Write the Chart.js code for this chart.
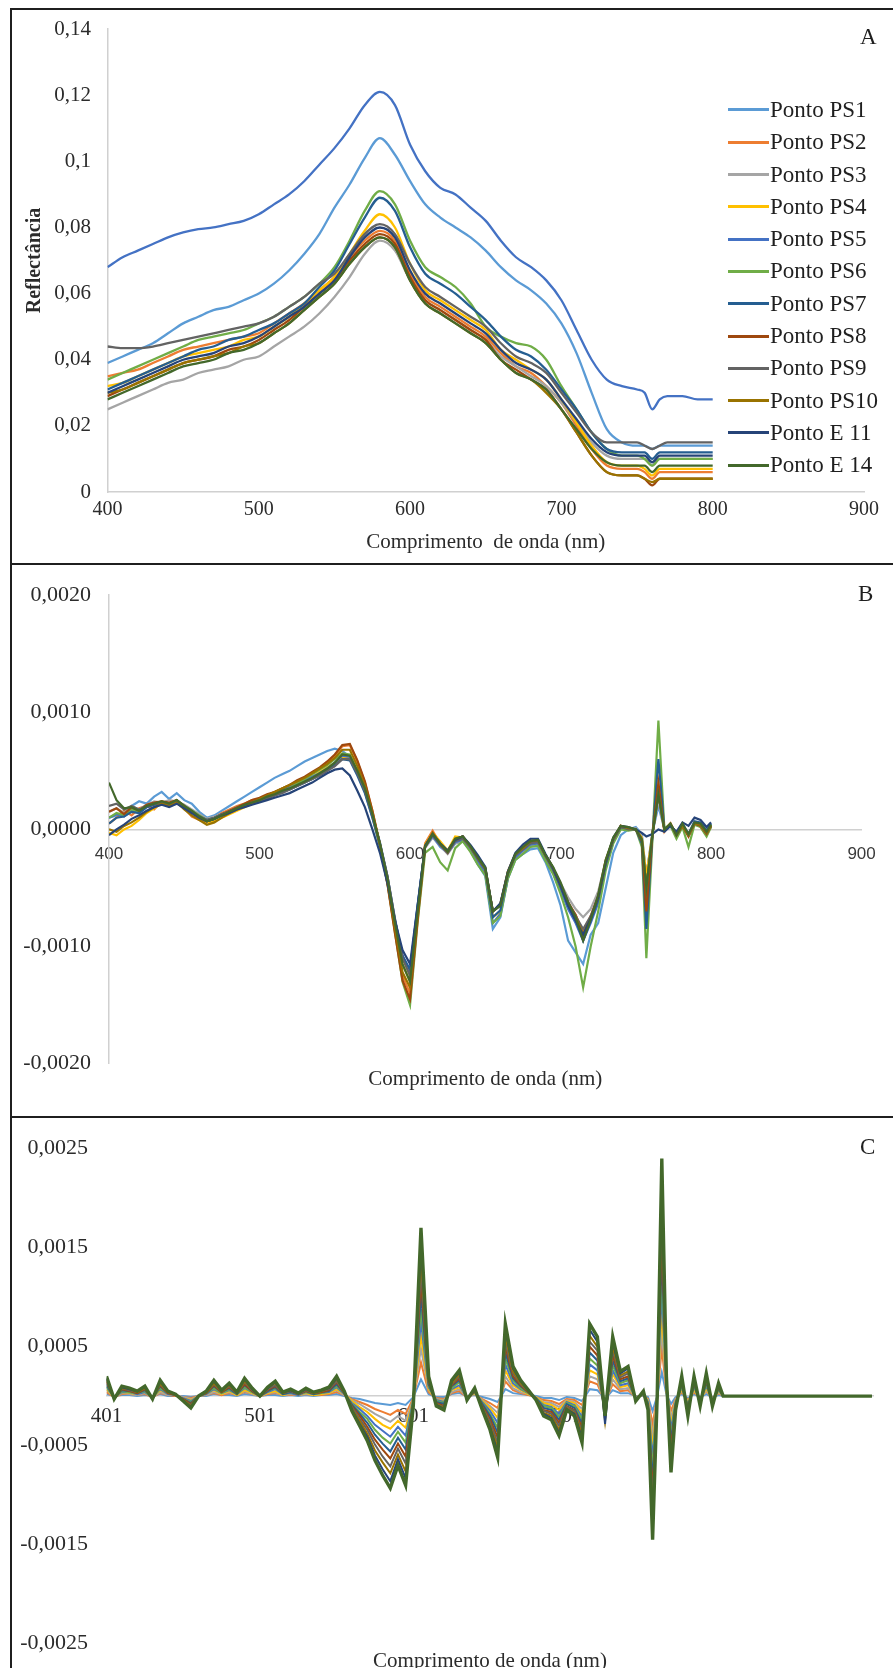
<!DOCTYPE html>
<html lang="pt">
<head>
<meta charset="utf-8">
<title>Reflectância e derivadas – pontos PS / E</title>
<script src="https://cdn.jsdelivr.net/npm/chart.js@4.4.0/dist/chart.umd.min.js"></script>
<style>
  html, body { margin: 0; padding: 0; background: #fff; }
  #page { position: relative; width: 893px; height: 1668px; overflow: hidden; background: #fff; }
  canvas { position: absolute; left: 0; }
  .frame { position: absolute; background: #1f1f1f; }
  .tag { position: absolute; font: 23px "Liberation Serif", "Times New Roman", serif; color: #1f1f1f; line-height: 1; }
  #legendA { position: absolute; left: 728px; top: 93.8px; font: 23px "Liberation Serif", "Times New Roman", serif; color: #1f1f1f; }
  #legendA .item { height: 32.3px; display: flex; align-items: center; white-space: nowrap; }
  #legendA .swatch { width: 41px; height: 3px; margin-right: 1px; }
</style>
</head>
<body>
<div id="page">
  <canvas id="chartA" width="893" height="564" style="top:0"></canvas>
  <canvas id="chartB" width="893" height="553" style="top:564px"></canvas>
  <canvas id="chartC" width="893" height="570" style="top:1117px"></canvas>
  <div id="legendA"></div>
  <span class="tag" style="left:860px;top:25px">A</span>
  <span class="tag" style="left:858px;top:582px">B</span>
  <span class="tag" style="left:860px;top:1135px">C</span>
  <div class="frame" style="left:10px;top:8px;width:883px;height:2px"></div>
  <div class="frame" style="left:10px;top:8px;width:2px;height:1660px"></div>
  <div class="frame" style="left:10px;top:563px;width:883px;height:2px"></div>
  <div class="frame" style="left:10px;top:1116px;width:883px;height:2px"></div>
</div>
<script>
// Séries (pontos de coleta)
const seriesNames = ['Ponto PS1', 'Ponto PS2', 'Ponto PS3', 'Ponto PS4', 'Ponto PS5', 'Ponto PS6',
  'Ponto PS7', 'Ponto PS8', 'Ponto PS9', 'Ponto PS10', 'Ponto E 11', 'Ponto E 14'];
const seriesColors = ['#5b9bd5', '#ed7d31', '#a5a5a5', '#ffc000', '#4472c4', '#70ad47',
  '#255e91', '#9e480e', '#636363', '#997300', '#264478', '#43682b'];

// ---- Painel A: reflectância ----
const wavelengthsA = [400, 410, 420, 430, 440, 450, 460, 470, 480, 490,
  500, 510, 520, 530, 540, 550, 560, 570, 580, 590,
  600, 610, 620, 630, 640, 650, 660, 670, 680, 690,
  700, 710, 720, 730, 740, 750, 755, 760, 765, 770,
  780, 790, 800];
const aPS1 = [.039, .041, .043, .045, .048, .051, .053, .055, .056, .058,
  .060, .063, .067, .072, .078, .086, .093, .101, .107, .102,
  .094, .087, .083, .080, .077, .073, .068, .064, .061, .057,
  .051, .042, .030, .019, .015, .014, .014, .013, .014, .014,
  .014, .014, .014];
const aPS2 = [.035, .036, .037, .039, .041, .043, .044, .045, .046, .047,
  .048, .051, .054, .057, .061, .065, .071, .076, .079, .076,
  .066, .059, .056, .053, .050, .047, .042, .038, .036, .032,
  .027, .020, .013, .008, .007, .007, .006, .004, .006, .006,
  .006, .006, .006];
const aPS3 = [.025, .027, .029, .031, .033, .034, .036, .037, .038, .040,
  .041, .044, .047, .050, .054, .059, .065, .072, .076, .073,
  .064, .058, .055, .052, .049, .046, .041, .038, .035, .032,
  .027, .021, .015, .011, .010, .010, .010, .008, .010, .010,
  .010, .010, .010];
const aPS4 = [.032, .033, .035, .037, .039, .041, .042, .043, .044, .046,
  .047, .050, .053, .057, .061, .065, .072, .079, .084, .080,
  .069, .061, .058, .055, .052, .049, .043, .040, .037, .034,
  .028, .021, .014, .009, .008, .008, .007, .005, .007, .007,
  .007, .007, .007];
const aPS5 = [.068, .071, .073, .075, .077, .0785, .0795, .080, .081, .082,
  .084, .087, .090, .094, .099, .104, .110, .117, .121, .117,
  .105, .097, .092, .090, .086, .082, .076, .071, .068, .064,
  .058, .049, .040, .034, .032, .031, .030, .025, .028, .029,
  .029, .028, .028];
const aPS6 = [.034, .036, .038, .040, .042, .044, .046, .047, .048, .049,
  .051, .053, .056, .059, .063, .068, .076, .085, .091, .087,
  .076, .068, .065, .062, .057, .050, .047, .045, .044, .040,
  .032, .025, .018, .013, .011, .011, .010, .008, .010, .010,
  .010, .010, .010];
const aPS7 = [.031, .033, .035, .037, .039, .041, .043, .044, .046, .047,
  .049, .051, .054, .057, .062, .067, .075, .083, .089, .085,
  .074, .066, .063, .060, .056, .052, .047, .043, .041, .037,
  .031, .025, .018, .013, .012, .012, .012, .010, .012, .012,
  .012, .012, .012];
const aPS8 = [.029, .031, .033, .035, .037, .039, .040, .041, .043, .044,
  .046, .049, .052, .056, .060, .064, .070, .075, .078, .075,
  .065, .058, .055, .052, .049, .046, .040, .037, .034, .031,
  .025, .018, .011, .006, .005, .005, .004, .002, .004, .004,
  .004, .004, .004];
const aPS9 = [.044, .0435, .0435, .044, .045, .046, .047, .048, .049, .050,
  .051, .053, .056, .059, .063, .066, .072, .078, .081, .078,
  .069, .062, .059, .056, .053, .050, .045, .041, .039, .036,
  .030, .024, .018, .015, .015, .015, .014, .013, .014, .015,
  .015, .015, .015];
const aPS10 = [.030, .031, .033, .035, .037, .039, .040, .041, .042, .044,
  .045, .048, .051, .055, .059, .063, .069, .074, .077, .074,
  .064, .057, .054, .051, .048, .045, .040, .036, .034, .030,
  .025, .018, .011, .006, .005, .005, .004, .003, .004, .004,
  .004, .004, .004];
const aE11 = [.030, .032, .034, .036, .038, .040, .041, .042, .044, .045,
  .047, .050, .053, .056, .060, .064, .071, .077, .080, .077,
  .067, .060, .057, .054, .051, .048, .043, .039, .037, .034,
  .028, .022, .016, .012, .011, .011, .011, .009, .011, .011,
  .011, .011, .011];
const aE14 = [.028, .030, .032, .034, .036, .038, .039, .040, .042, .043,
  .045, .048, .051, .055, .059, .063, .069, .074, .077, .074,
  .064, .057, .054, .051, .048, .045, .040, .036, .034, .031,
  .025, .019, .013, .009, .008, .008, .008, .006, .008, .008,
  .008, .008, .008];
const xTicksA = [400, 500, 600, 700, 800, 900];
const yTicksA = [0, 0.02, 0.04, 0.06, 0.08, 0.1, 0.12, 0.14];

// ---- Painel B: primeira derivada (valores em 10^-4) ----
const wavelengthsB = [400, 405, 410, 415, 420, 425, 430, 435, 440, 445,
  450, 455, 460, 465, 470, 475, 480, 485, 490, 495,
  500, 505, 510, 515, 520, 525, 530, 535, 540, 545,
  550, 555, 560, 565, 570, 575, 580, 585, 590, 595,
  600, 605, 610, 615, 620, 625, 630, 635, 640, 645,
  650, 655, 660, 665, 670, 675, 680, 685, 690, 695,
  700, 705, 710, 715, 720, 725, 730, 735, 740, 745,
  750, 754, 757, 761, 765, 769, 773, 777, 781, 785,
  789, 793, 797, 800];
const bPS1 = [1, 1.2, 1.5, 2, 2.4, 2.2, 2.8, 3.2, 2.6, 3.1,
  2.5, 2.2, 1.5, 1, 1.2, 1.6, 2, 2.4, 2.8, 3.2,
  3.6, 4, 4.4, 4.7, 5, 5.4, 5.8, 6.1, 6.4, 6.7,
  6.9, 6.7, 6.2, 4.8, 3.2, 1, -1.5, -4.5, -8, -11,
  -12.3, -6.5, -1.5, -0.6, -1.5, -2, -1.2, -1, -1.8, -3,
  -4, -8.5, -7.5, -4.2, -2.6, -2.1, -1.7, -1.6, -2.8, -4.5,
  -6.5, -9.5, -10.5, -11.5, -9, -8, -5, -2, -0.5, 0,
  0.2, -0.4, -4, -0.3, 2, 0, 0.3, -0.5, 0.2, -0.4,
  0.4, 0.3, -0.2, 0.2];
const bPS2 = [0.5, 1, 1.6, 1.2, 1.8, 2, 1.7, 2.4, 2, 2.5,
  1.8, 1.1, 0.8, 0.6, 1, 1.4, 1.7, 2, 2.2, 2.5,
  2.6, 2.9, 3.2, 3.5, 3.8, 4.1, 4.4, 4.8, 5.2, 5.7,
  6.3, 7.1, 7.2, 5.8, 4, 1.6, -1.3, -4.6, -8.6, -12.5,
  -14, -7.5, -1.2, -0.1, -1.2, -1.9, -0.9, -0.6, -1.4, -2.4,
  -3.3, -7, -6.4, -3.6, -2.1, -1.6, -1.1, -1, -2.2, -3.3,
  -4.7, -6.3, -7.3, -8.8, -7.4, -5.6, -2.6, -0.9, 0.3, 0.1,
  0, -0.9, -6, -0.4, 3, -0.2, 0.5, -0.6, 0.4, -0.6,
  0.6, 0.2, -0.5, 0.3];
const bPS3 = [1.5, 1.8, 1.4, 2, 1.7, 2.1, 2.4, 2.3, 2.5, 2.4,
  2.1, 1.7, 1.3, 0.9, 1.1, 1.3, 1.6, 1.9, 2.1, 2.3,
  2.5, 2.7, 2.9, 3.2, 3.4, 3.7, 4, 4.3, 4.6, 5,
  5.4, 6, 6, 4.8, 3.3, 1.2, -1.2, -4, -7.6, -10.8,
  -12.5, -6.8, -1.6, -0.7, -1.4, -2.1, -1.2, -1, -1.6, -2.6,
  -3.6, -7, -6.5, -3.7, -2.4, -1.9, -1.4, -1.3, -2.4, -3.3,
  -4.6, -5.8, -6.8, -7.5, -6.8, -5.3, -2.7, -0.9, 0.2, 0,
  0.1, -0.6, -4, -0.3, 2.5, 0.1, 0.4, -0.3, 0.2, -0.4,
  0.4, 0.5, -0.2, 0.2];
const bPS4 = [-0.3, -0.5, 0, 0.3, 0.8, 1.4, 1.8, 2.2, 2, 2.4,
  1.8, 1.4, 1, 0.6, 0.7, 1, 1.3, 1.6, 1.9, 2.2,
  2.4, 2.7, 3, 3.3, 3.6, 3.9, 4.2, 4.5, 4.9, 5.3,
  5.7, 6.2, 6.1, 4.9, 3.4, 1.3, -1.2, -4.1, -8, -11.5,
  -13, -7, -1.3, -0.3, -1, -1.8, -0.6, -0.7, -1.4, -2.4,
  -3.4, -7.5, -7, -3.8, -2.1, -1.4, -0.9, -1.1, -2.3, -3.5,
  -5, -6.6, -7.8, -9, -7.6, -6, -3, -1, 0.1, 0,
  0, -0.7, -4, -0.5, 3, 0, 0.5, -0.5, 0.4, -0.5,
  0.5, 0.4, -0.3, 0.4];
const bPS5 = [1, 1.3, 1.1, 1.6, 1.4, 1.9, 2.1, 2.3, 2.1, 2.4,
  1.9, 1.5, 1.1, 0.7, 0.9, 1.2, 1.5, 1.8, 2.1, 2.4,
  2.6, 2.9, 3.1, 3.4, 3.6, 3.9, 4.2, 4.5, 4.8, 5.2,
  5.7, 6.3, 6.2, 4.9, 3.3, 1.2, -1.1, -4, -7.7, -10.8,
  -12, -6.6, -1.5, -0.6, -1.4, -2, -1.1, -0.9, -1.6, -2.7,
  -3.7, -8, -7.2, -4.1, -2.4, -1.8, -1.3, -1.2, -2.5, -3.7,
  -5.2, -6.8, -8, -9.5, -8, -6.3, -3.2, -1.1, 0.2, 0,
  0, -0.9, -6, -0.5, 3, 0, 0.4, -0.4, 0.3, -0.5,
  0.5, 0.4, -0.3, 0.3];
const bPS6 = [1, 1.4, 1.2, 1.7, 1.5, 2, 2.2, 2.4, 2.2, 2.5,
  2, 1.6, 1.2, 0.8, 1, 1.3, 1.5, 1.8, 2.1, 2.3,
  2.5, 2.8, 3, 3.3, 3.5, 3.9, 4.3, 4.7, 5.1, 5.5,
  6, 6.5, 6.4, 5, 3.4, 1.2, -1.5, -4.6, -8.8, -13,
  -15, -8, -2, -1.5, -2.8, -3.5, -1.6, -1, -1.9, -3,
  -3.9, -8, -7.4, -4.2, -2.6, -2.1, -1.5, -1.4, -2.7, -3.8,
  -5.5, -7.5, -10, -13.5, -10, -7, -3.5, -1.2, 0, -0.1,
  0, -1.5, -11, -1, 9.3, 0, 0.3, -0.8, 0.2, -1.5,
  0.4, 0.2, -0.6, 0.2];
const bPS7 = [0.5, 1, 1.1, 1.5, 1.4, 1.9, 2.1, 2.3, 2.2, 2.4,
  1.9, 1.5, 1.1, 0.8, 1, 1.3, 1.5, 1.8, 2, 2.3,
  2.4, 2.7, 2.9, 3.2, 3.4, 3.7, 4, 4.3, 4.7, 5.1,
  5.5, 6, 5.9, 4.6, 3.1, 1, -1.3, -4.1, -7.8, -10.8,
  -12, -6.7, -1.4, -0.4, -1.2, -1.9, -0.9, -0.7, -1.4, -2.4,
  -3.4, -7.5, -6.9, -3.8, -2.2, -1.6, -1.1, -1, -2.2, -3.4,
  -4.9, -6.5, -7.7, -9.5, -7.8, -6, -3, -0.9, 0.2, 0.1,
  0, -1.2, -8.5, -0.6, 6, 0, 0.4, -0.3, 0.5, -0.4,
  0.7, 0.6, -0.1, 0.5];
const bPS8 = [1.5, 1.8, 1.3, 1.9, 1.6, 2.1, 2.3, 2.4, 2.3, 2.5,
  2, 1.5, 1, 0.7, 0.9, 1.3, 1.6, 1.9, 2.2, 2.5,
  2.7, 3, 3.2, 3.5, 3.8, 4.2, 4.5, 4.9, 5.3, 5.8,
  6.4, 7.2, 7.3, 5.9, 4.1, 1.6, -1.3, -4.7, -8.9, -12.9,
  -14.5, -7.8, -1.5, -0.3, -1.3, -2, -0.9, -0.6, -1.5, -2.5,
  -3.4, -7, -6.4, -3.7, -2.1, -1.6, -1.1, -1, -2.2, -3.3,
  -4.7, -6.2, -7.3, -9, -7.5, -5.7, -2.7, -0.8, 0.3, 0.1,
  0, -1, -7, -0.5, 4, -0.1, 0.5, -0.5, 0.3, -0.6,
  0.5, 0.3, -0.4, 0.3];
const bPS9 = [2, 2.2, 1.7, 2, 1.7, 2, 2.2, 2.3, 2.1, 2.4,
  1.9, 1.5, 1.1, 0.8, 1, 1.3, 1.5, 1.8, 2, 2.2,
  2.4, 2.6, 2.9, 3.1, 3.4, 3.7, 4, 4.3, 4.6, 5,
  5.4, 6, 6, 4.8, 3.3, 1.2, -1.2, -4, -7.7, -11,
  -12.5, -6.9, -1.5, -0.5, -1.3, -2, -1, -0.8, -1.5, -2.5,
  -3.4, -7, -6.5, -3.7, -2.2, -1.7, -1.2, -1.1, -2.3, -3.4,
  -4.8, -6.3, -7.4, -8.5, -7.4, -5.8, -2.8, -0.9, 0.2, 0,
  0, -0.8, -5, -0.4, 3, 0, 0.4, -0.4, 0.3, -0.5,
  0.5, 0.4, -0.3, 0.3];
const bPS10 = [0, -0.2, 0.3, 0.6, 1, 1.5, 1.9, 2.2, 2, 2.3,
  1.7, 1.2, 0.8, 0.4, 0.6, 1, 1.4, 1.7, 2, 2.3,
  2.6, 2.9, 3.2, 3.5, 3.8, 4.1, 4.4, 4.8, 5.2, 5.6,
  6.1, 6.8, 6.8, 5.4, 3.7, 1.4, -1.3, -4.4, -8.4, -12.2,
  -13.5, -7.3, -1.4, -0.3, -1.2, -1.9, -0.8, -0.6, -1.4, -2.4,
  -3.3, -7, -6.4, -3.6, -2.1, -1.6, -1, -0.9, -2.2, -3.3,
  -4.8, -6.4, -7.5, -9, -7.6, -5.8, -2.8, -0.8, 0.3, 0.1,
  0, -0.8, -5, -0.4, 3, 0, 0.4, -0.4, 0.3, -0.5,
  0.5, 0.4, -0.3, 0.3];
const bE11 = [-0.5, 0, 0.4, 0.9, 1.2, 1.6, 1.9, 2.1, 1.9, 2.2,
  1.8, 1.4, 1, 0.7, 0.9, 1.2, 1.4, 1.7, 1.9, 2.1,
  2.3, 2.5, 2.7, 2.9, 3.1, 3.4, 3.7, 4, 4.4, 4.8,
  5.1, 5.2, 4.6, 3.3, 1.9, 0, -2, -4.6, -7.8, -10.3,
  -11.5, -6.5, -1.4, -0.4, -1.2, -1.8, -0.9, -0.6, -1.3, -2.2,
  -3.2, -7, -6.3, -3.6, -2, -1.3, -0.8, -0.8, -2.1, -3.3,
  -4.8, -6.5, -7.8, -9, -7.6, -5.8, -2.8, -0.7, 0.3, 0.2,
  0, -0.3, -0.6, -0.4, 0, -0.2, 0.3, -0.2, 0.6, 0.3,
  1, 0.8, 0.2, 0.6];
const bE14 = [4, 2.5, 1.8, 1.9, 1.6, 2, 2.2, 2.4, 2.2, 2.5,
  2, 1.6, 1.1, 0.7, 0.9, 1.2, 1.5, 1.8, 2.1, 2.3,
  2.5, 2.8, 3, 3.3, 3.5, 3.8, 4.1, 4.4, 4.8, 5.2,
  5.7, 6.4, 6.3, 5, 3.5, 1.3, -1.2, -4.2, -8, -11.5,
  -13, -7.1, -1.5, -0.4, -1.2, -1.9, -0.8, -0.6, -1.4, -2.4,
  -3.3, -7, -6.5, -3.7, -2.1, -1.5, -1, -0.9, -2.2, -3.2,
  -4.5, -6.2, -7.5, -9.5, -7.7, -5.6, -2.6, -0.7, 0.3, 0.2,
  0, -0.9, -5, -0.5, 3, 0, 0.5, -0.5, 0.5, -0.4,
  0.6, 0.5, -0.2, 0.4];
const xTicksB = [400, 500, 600, 700, 800, 900];
const yTicksB = [-20, -10, 0, 10, 20];

// ---- Painel C: segunda derivada (valores em 10^-4) ----
const wavelengthsC = [401, 406, 411, 416, 421, 426, 431, 436, 441, 446,
  451, 456, 461, 466, 471, 476, 481, 486, 491, 496,
  501, 506, 511, 516, 521, 526, 531, 536, 541, 546,
  551, 556, 561, 566, 571, 576, 581, 586, 591, 596,
  601, 606, 611, 616, 621, 626, 631, 636, 641, 646,
  651, 656, 661, 666, 671, 676, 681, 686, 691, 696,
  701, 706, 711, 716, 721, 726, 731, 736, 741, 746,
  751, 754, 757, 760, 763, 766, 769, 772, 776, 780,
  784, 788, 792, 796, 800, 803, 900];
const cPS1 = [0.2, 0, 0.1, 0.1, 0, 0.1, 0, 0.2, 0, 0,
  0, -0.1, 0, 0, 0.2, 0.1, 0.1, 0, 0.2, 0.1,
  0, 0.1, 0.1, 0, 0.1, 0, 0.1, 0, 0.1, 0.1,
  0.2, 0, -0.2, -0.3, -0.5, -0.7, -0.8, -0.9, -0.7, -0.9,
  -0.1, 1.7, 0.2, -0.1, -0.1, 0.2, 0.3, 0, 0.1, -0.1,
  -0.3, -0.6, 0.7, 0.3, 0.2, 0.1, 0, -0.2, -0.2, -0.4,
  -0.1, -0.2, -0.5, 0.7, 0.6, -0.3, 0.6, 0.3, 0.3, 0,
  0, -0.1, -1.5, 0, 2.4, 0.2, -0.8, -0.1, 0.2, -0.2,
  0.2, -0.1, 0.2, -0.1, 0.1, 0, 0];
const cPS2 = [0.4, -0.1, 0.2, 0.2, 0.1, 0.2, -0.1, 0.3, 0.1, 0,
  -0.1, -0.2, 0, 0.1, 0.3, 0.1, 0.3, 0.1, 0.4, 0.2,
  0, 0.2, 0.3, 0.1, 0.1, 0.1, 0.2, 0.1, 0.1, 0.2,
  0.4, 0.1, -0.3, -0.6, -0.9, -1.3, -1.6, -1.9, -1.4, -1.8,
  -0.2, 3.4, 0.4, -0.2, -0.3, 0.3, 0.5, -0.1, 0.2, -0.3,
  -0.7, -1.2, 1.5, 0.6, 0.3, 0.1, -0.1, -0.4, -0.5, -0.8,
  -0.3, -0.4, -0.9, 1.5, 1.2, -0.6, 1.2, 0.5, 0.6, -0.1,
  0.1, -0.3, -2.9, 0, 4.8, 0.4, -1.5, -0.3, 0.4, -0.4,
  0.4, -0.2, 0.5, -0.2, 0.3, 0, 0];
const cPS3 = [0.6, -0.1, 0.3, 0.2, 0.1, 0.3, -0.1, 0.4, 0.1, 0.1,
  -0.1, -0.3, 0, 0.1, 0.4, 0.2, 0.4, 0.1, 0.5, 0.2,
  0, 0.3, 0.4, 0.1, 0.2, 0.1, 0.2, 0.1, 0.2, 0.3,
  0.6, 0.1, -0.4, -0.8, -1.3, -1.8, -2.2, -2.6, -2, -2.5,
  -0.3, 4.8, 0.6, -0.3, -0.4, 0.4, 0.7, -0.1, 0.2, -0.4,
  -1, -1.7, 2, 0.8, 0.4, 0.2, -0.1, -0.6, -0.7, -1.1,
  -0.4, -0.6, -1.3, 2, 1.7, -0.8, 1.7, 0.7, 0.8, -0.1,
  0.1, -0.4, -4.1, 0, 6.7, 0.6, -2.2, -0.4, 0.6, -0.6,
  0.6, -0.3, 0.6, -0.3, 0.4, 0, 0];
const cPS4 = [0.7, -0.1, 0.4, 0.3, 0.2, 0.4, -0.1, 0.6, 0.2, 0.1,
  -0.2, -0.4, 0, 0.2, 0.6, 0.2, 0.5, 0.1, 0.6, 0.3,
  0, 0.3, 0.5, 0.1, 0.3, 0.1, 0.3, 0.1, 0.2, 0.3,
  0.7, 0.2, -0.5, -1.1, -1.6, -2.3, -2.9, -3.3, -2.5, -3.2,
  -0.4, 6.1, 0.7, -0.4, -0.5, 0.6, 0.9, -0.1, 0.3, -0.5,
  -1.2, -2.2, 2.6, 1.1, 0.6, 0.2, -0.1, -0.7, -0.9, -1.4,
  -0.5, -0.7, -1.7, 2.6, 2.2, -1.1, 2.2, 0.9, 1.1, -0.2,
  0.2, -0.5, -5.2, 0, 8.6, 0.7, -2.8, -0.5, 0.7, -0.7,
  0.7, -0.4, 0.8, -0.4, 0.5, 0, 0];
const cPS5 = [0.9, -0.1, 0.4, 0.4, 0.2, 0.4, -0.1, 0.7, 0.2, 0.1,
  -0.2, -0.5, 0, 0.2, 0.7, 0.3, 0.6, 0.2, 0.8, 0.4,
  0, 0.4, 0.7, 0.2, 0.3, 0.1, 0.4, 0.2, 0.3, 0.4,
  0.9, 0.2, -0.7, -1.3, -2, -2.9, -3.5, -4.1, -3.1, -4,
  -0.4, 7.5, 0.9, -0.4, -0.6, 0.7, 1.1, -0.2, 0.4, -0.6,
  -1.5, -2.7, 3.2, 1.3, 0.7, 0.3, -0.2, -0.9, -1.1, -1.8,
  -0.6, -0.9, -2.1, 3.2, 2.6, -1.3, 2.6, 1.1, 1.3, -0.2,
  0.2, -0.6, -6.4, 0, 10.6, 0.9, -3.4, -0.6, 0.9, -0.9,
  0.9, -0.4, 1, -0.4, 0.6, 0, 0];
const cPS6 = [1, -0.2, 0.5, 0.4, 0.3, 0.5, -0.2, 0.8, 0.3, 0.1,
  -0.3, -0.6, 0, 0.3, 0.8, 0.3, 0.7, 0.2, 0.9, 0.4,
  0, 0.5, 0.8, 0.2, 0.4, 0.2, 0.4, 0.2, 0.3, 0.5,
  1, 0.3, -0.8, -1.6, -2.3, -3.4, -4.2, -4.8, -3.6, -4.7,
  -0.5, 8.8, 1, -0.5, -0.7, 0.8, 1.4, -0.2, 0.4, -0.7,
  -1.8, -3.2, 3.8, 1.6, 0.8, 0.3, -0.2, -1, -1.2, -2.1,
  -0.7, -1, -2.4, 3.8, 3.1, -1.6, 3.1, 1.3, 1.6, -0.3,
  0.3, -0.7, -7.5, 0, 12.5, 1, -4, -0.7, 1, -1,
  1, -0.5, 1.2, -0.5, 0.7, 0, 0];
const cPS7 = [1.2, -0.2, 0.6, 0.5, 0.3, 0.6, -0.2, 1, 0.3, 0.1,
  -0.3, -0.7, 0, 0.3, 1, 0.4, 0.8, 0.2, 1.1, 0.5,
  0, 0.5, 0.9, 0.2, 0.4, 0.2, 0.5, 0.2, 0.4, 0.5,
  1.2, 0.3, -0.9, -1.8, -2.7, -3.9, -4.8, -5.6, -4.2, -5.4,
  -0.6, 10.2, 1.2, -0.6, -0.8, 1, 1.6, -0.2, 0.5, -0.8,
  -2, -3.7, 4.4, 1.8, 1, 0.4, -0.2, -1.2, -1.4, -2.4,
  -0.8, -1.2, -2.8, 4.4, 3.6, -1.8, 3.6, 1.5, 1.8, -0.3,
  0.3, -0.8, -8.7, 0, 14.4, 1.2, -4.6, -0.8, 1.2, -1.2,
  1.2, -0.6, 1.4, -0.6, 0.8, 0, 0];
const cPS8 = [1.4, -0.2, 0.7, 0.5, 0.3, 0.7, -0.2, 1.1, 0.3, 0.1,
  -0.3, -0.8, 0, 0.3, 1.1, 0.4, 0.9, 0.3, 1.2, 0.5,
  0, 0.6, 1, 0.3, 0.5, 0.2, 0.5, 0.3, 0.4, 0.6,
  1.4, 0.3, -1, -2, -3.1, -4.4, -5.4, -6.3, -4.8, -6.1,
  -0.7, 11.6, 1.4, -0.7, -1, 1.1, 1.8, -0.3, 0.5, -1,
  -2.3, -4.2, 5, 2, 1.1, 0.4, -0.3, -1.4, -1.6, -2.7,
  -1, -1.4, -3.2, 5, 4.1, -2, 4.1, 1.7, 2, -0.3,
  0.3, -1, -9.9, 0, 16.3, 1.4, -5.2, -1, 1.4, -1.4,
  1.4, -0.7, 1.6, -0.7, 0.9, 0, 0];
const cPS9 = [1.5, -0.2, 0.8, 0.6, 0.4, 0.8, -0.2, 1.2, 0.4, 0.2,
  -0.4, -0.9, 0, 0.4, 1.2, 0.5, 1, 0.3, 1.4, 0.6,
  0, 0.7, 1.1, 0.3, 0.5, 0.2, 0.6, 0.3, 0.5, 0.7,
  1.5, 0.4, -1.1, -2.3, -3.4, -4.9, -6.1, -7.1, -5.3, -6.8,
  -0.8, 12.9, 1.5, -0.8, -1.1, 1.2, 2, -0.3, 0.6, -1.1,
  -2.6, -4.7, 5.5, 2.3, 1.2, 0.5, -0.3, -1.5, -1.8, -3,
  -1.1, -1.5, -3.6, 5.5, 4.6, -2.3, 4.6, 1.9, 2.3, -0.4,
  0.4, -1.1, -11, 0, 18.2, 1.5, -5.9, -1.1, 1.5, -1.5,
  1.5, -0.8, 1.7, -0.8, 1, 0, 0];
const cPS10 = [1.7, -0.3, 0.8, 0.7, 0.4, 0.8, -0.3, 1.3, 0.4, 0.2,
  -0.4, -1, 0, 0.4, 1.3, 0.5, 1.1, 0.3, 1.5, 0.7,
  0, 0.8, 1.3, 0.3, 0.6, 0.3, 0.7, 0.3, 0.5, 0.8,
  1.7, 0.4, -1.3, -2.5, -3.8, -5.5, -6.7, -7.8, -5.9, -7.6,
  -0.8, 14.3, 1.7, -0.8, -1.2, 1.3, 2.2, -0.3, 0.7, -1.2,
  -2.9, -5.2, 6.1, 2.5, 1.3, 0.5, -0.3, -1.7, -2, -3.4,
  -1.2, -1.7, -3.9, 6.1, 5, -2.5, 5, 2.1, 2.5, -0.4,
  0.4, -1.2, -12.2, 0, 20.2, 1.7, -6.5, -1.2, 1.7, -1.7,
  1.7, -0.8, 1.9, -0.8, 1.1, 0, 0];
const cE11 = [1.8, -0.3, 0.9, 0.7, 0.5, 0.9, -0.3, 1.5, 0.5, 0.2,
  -0.5, -1.1, 0, 0.5, 1.5, 0.6, 1.2, 0.4, 1.7, 0.7,
  0, 0.8, 1.4, 0.4, 0.6, 0.3, 0.7, 0.4, 0.6, 0.8,
  1.8, 0.5, -1.4, -2.8, -4.1, -6, -7.4, -8.6, -6.4, -8.3,
  -0.9, 15.6, 1.8, -0.9, -1.3, 1.5, 2.4, -0.4, 0.7, -1.3,
  -3.1, -5.7, 6.7, 2.8, 1.5, 0.6, -0.4, -1.8, -2.2, -3.7,
  -1.3, -1.8, -4.3, 6.7, 5.5, -2.8, 5.5, 2.3, 2.8, -0.5,
  0.5, -1.3, -13.3, 0, 22.1, 1.8, -7.1, -1.3, 1.8, -1.8,
  1.8, -0.9, 2.1, -0.9, 1.2, 0, 0];
const cE14 = [2, -0.3, 1, 0.8, 0.5, 1, -0.3, 1.6, 0.5, 0.2,
  -0.5, -1.2, 0, 0.5, 1.6, 0.6, 1.3, 0.4, 1.8, 0.8,
  0, 0.9, 1.5, 0.4, 0.7, 0.3, 0.8, 0.4, 0.6, 0.9,
  2, 0.5, -1.5, -3, -4.5, -6.5, -8, -9.3, -7, -9,
  -1, 17, 2, -1, -1.4, 1.6, 2.6, -0.4, 0.8, -1.4,
  -3.4, -6.2, 7.3, 3, 1.6, 0.6, -0.4, -2, -2.4, -4,
  -1.4, -2, -4.7, 7.3, 6, -2, 6, 2.5, 3, -0.5,
  0.5, -1.4, -14.5, 0, 24, 2, -7.7, -1.4, 2, -2,
  2, -1, 2.3, -1, 1.3, 0, 0];
const xTicksC = [401, 501, 601, 701];
const yTicksC = [-25, -15, -5, 5, 15, 25];

const seriesA = [aPS1, aPS2, aPS3, aPS4, aPS5, aPS6, aPS7, aPS8, aPS9, aPS10, aE11, aE14];
const seriesB = [bPS1, bPS2, bPS3, bPS4, bPS5, bPS6, bPS7, bPS8, bPS9, bPS10, bE11, bE14];
const seriesC = [cPS1, cPS2, cPS3, cPS4, cPS5, cPS6, cPS7, cPS8, cPS9, cPS10, cE11, cE14];

// estilo comum
const serif = "'Liberation Serif', 'Times New Roman', serif";
const sans = "'Liberation Sans', Arial, sans-serif";
const ink = '#2b2b2b';
const axisGrey = '#d0d0d0';

function makeDatasets(wl, series, width, smooth) {
  return series.map((vals, i) => ({
    label: seriesNames[i],
    data: wl.map((w, j) => ({ x: w, y: vals[j] })),
    borderColor: seriesColors[i],
    backgroundColor: seriesColors[i],
    borderWidth: Array.isArray(width) ? width[i] : width,
    pointRadius: 0,
    fill: false,
    tension: 0,
    cubicInterpolationMode: smooth ? 'monotone' : 'default',
    order: series.length - 1 - i,
    xAxisID: 'x',
    yAxisID: 'y'
  }));
}
const fixTicks = list => scale => { scale.ticks = list.map(v => ({ value: v })); };
const fmtRefl = v => v === 0 ? '0' : String(+v.toFixed(2)).replace('.', ',');
const fmtDeriv = v => (v / 10000).toFixed(4).replace('.', ',');
const noGrid = { display: false, drawTicks: false };
const base = {
  responsive: false,
  animation: false,
  events: [],
  plugins: { legend: { display: false }, tooltip: { enabled: false } }
};

// Painel A
new Chart(document.getElementById('chartA'), {
  type: 'line',
  data: { datasets: makeDatasets(wavelengthsA, seriesA, 2.3, true) },
  options: {
    ...base,
    layout: { padding: { left: 0, right: 29, top: 27.7, bottom: 0 } },
    scales: {
      x: {
        type: 'linear', min: 400, max: 900,
        afterBuildTicks: fixTicks(xTicksA),
        afterFit: s => { s.height = 72; },
        grid: noGrid,
        border: { display: true, color: axisGrey, width: 1.5 },
        ticks: { font: { family: serif, size: 20 }, color: ink, padding: 5.5, maxRotation: 0, callback: v => String(v) },
        title: { display: true, text: 'Comprimento  de onda (nm)', font: { family: serif, size: 21 }, color: ink, padding: { top: 0, bottom: 9 } }
      },
      y: {
        type: 'linear', min: 0, max: 0.14,
        afterBuildTicks: fixTicks(yTicksA),
        afterFit: s => { s.width = 107.5; },
        grid: noGrid,
        border: { display: true, color: axisGrey, width: 1.5 },
        ticks: { font: { family: serif, size: 21 }, color: ink, padding: 16.5, callback: fmtRefl },
        title: { display: true, text: 'Reflectância', font: { family: serif, size: 20, weight: 'bold' }, color: ink, padding: { top: 23, bottom: 0 } }
      }
    }
  }
});

// Painel B
new Chart(document.getElementById('chartB'), {
  type: 'line',
  data: { datasets: makeDatasets(wavelengthsB, seriesB, 2.2, false) },
  options: {
    ...base,
    layout: { padding: { left: 0, right: 31.4, top: 22.8, bottom: 0 } },
    scales: {
      x: {
        type: 'linear', min: 400, max: 900, position: { y: 0 },
        afterBuildTicks: fixTicks(xTicksB),
        grid: noGrid,
        border: { display: true, color: axisGrey, width: 1.5 },
        ticks: { font: { family: sans, size: 17 }, color: '#3a3a3a', padding: 14.5, maxRotation: 0, callback: v => String(v) }
      },
      xt: {
        type: 'linear', axis: 'x', position: 'bottom', min: 400, max: 900,
        afterFit: s => { s.height = 53.4; },
        grid: noGrid, border: { display: false }, ticks: { display: false },
        title: { display: true, text: 'Comprimento de onda (nm)', font: { family: serif, size: 21 }, color: ink, padding: { top: 0, bottom: 24.8 } }
      },
      y: {
        type: 'linear', min: -20, max: 20,
        afterBuildTicks: fixTicks(yTicksB),
        afterFit: s => { s.width = 109; },
        grid: noGrid,
        border: { display: true, color: axisGrey, width: 1.5 },
        ticks: { font: { family: serif, size: 22 }, color: ink, padding: 18, callback: fmtDeriv }
      }
    }
  }
});

// Painel C
const widthsC = [2, 2, 2, 2, 2, 2, 2, 2, 2, 2, 2, 3.4];
new Chart(document.getElementById('chartC'), {
  type: 'line',
  data: { datasets: makeDatasets(wavelengthsC, seriesC, widthsC, false) },
  options: {
    ...base,
    layout: { padding: { left: 0, right: 19.5, top: 26.5, bottom: 0 } },
    scales: {
      x: {
        type: 'linear', min: 401, max: 901, position: { y: 0 },
        afterBuildTicks: fixTicks(xTicksC),
        grid: noGrid,
        border: { display: true, color: axisGrey, width: 1.5 },
        ticks: { font: { family: serif, size: 21 }, color: ink, padding: 7.5, maxRotation: 0, callback: v => String(v) }
      },
      xt: {
        type: 'linear', axis: 'x', position: 'bottom', min: 401, max: 901,
        afterFit: s => { s.height = 43.5; },
        grid: noGrid, border: { display: false }, ticks: { display: false },
        title: { display: true, text: 'Comprimento de onda (nm)', font: { family: serif, size: 21 }, color: ink, padding: { top: 0, bottom: 13.4 } }
      },
      y: {
        type: 'linear', min: -25, max: 25,
        afterBuildTicks: fixTicks(yTicksC),
        afterFit: s => { s.width = 106.5; },
        grid: noGrid,
        border: { display: false },
        ticks: { font: { family: serif, size: 22 }, color: ink, padding: 18.5, callback: fmtDeriv }
      }
    }
  }
});

// Legenda do painel A
const legendBox = document.getElementById('legendA');
seriesNames.forEach((name, i) => {
  const row = document.createElement('div');
  row.className = 'item';
  const sw = document.createElement('span');
  sw.className = 'swatch';
  sw.style.background = seriesColors[i];
  const tx = document.createElement('span');
  tx.textContent = name;
  row.append(sw, tx);
  legendBox.append(row);
});
</script>
</body>
</html>
